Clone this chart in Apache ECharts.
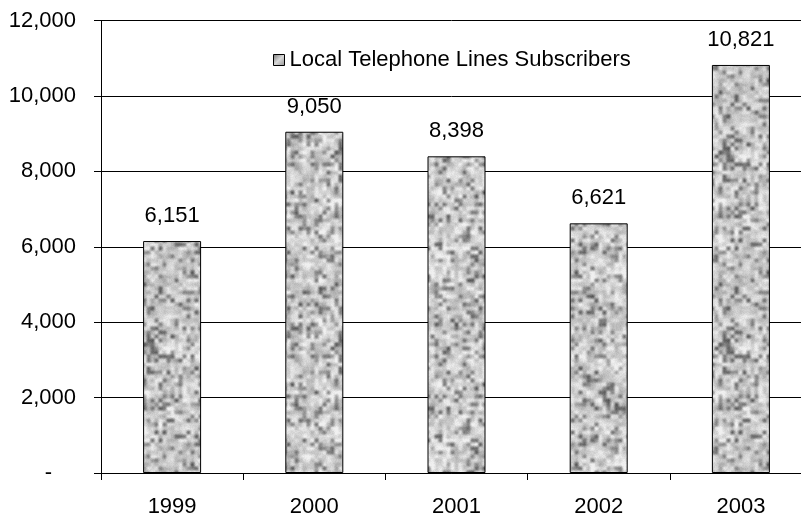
<!DOCTYPE html>
<html>
<head>
<meta charset="utf-8">
<script src="https://cdn.jsdelivr.net/npm/echarts@6/dist/echarts.min.js"></script>
<style>
html,body{margin:0;padding:0;background:#fff;}
#chart{width:801px;height:519px;}
</style>
</head>
<body>
<div id="chart"></div>
<script>
const categories = ['1999', '2000', '2001', '2002', '2003'];
const subscribers = [6151, 9050, 8398, 6621, 10821];
const seriesName = 'Local Telephone Lines Subscribers';

// seamless granite-like texture (styling only, deterministic)
function makeTexture() {
  let seed = 98765;
  function rnd() { seed = (seed * 1103515245 + 12345) & 0x7fffffff; return seed / 0x7fffffff; }
  const N = 48, S = 4, T = N * S;
  const g = [];
  for (let i = 0; i < N * N; i++) {
    let v = 180 + rnd() * 55;
    if (rnd() < 0.2) v = 100 + rnd() * 55;
    g.push(v);
  }
  const g2 = [];
  const M = 24, S2 = 8;
  for (let i = 0; i < M * M; i++) g2.push((rnd() - 0.5) * 40);
  function samp(arr, n, s, x, y) {
    const fx = x / s, fy = y / s;
    const x0 = Math.floor(fx), y0 = Math.floor(fy);
    const tx = fx - x0, ty = fy - y0;
    const sx = tx * tx * (3 - 2 * tx), sy = ty * ty * (3 - 2 * ty);
    const a = arr[(y0 % n) * n + (x0 % n)], b = arr[(y0 % n) * n + ((x0 + 1) % n)];
    const c = arr[((y0 + 1) % n) * n + (x0 % n)], d = arr[((y0 + 1) % n) * n + ((x0 + 1) % n)];
    return (a * (1 - sx) + b * sx) * (1 - sy) + (c * (1 - sx) + d * sx) * sy;
  }
  const cv = document.createElement('canvas');
  cv.width = T; cv.height = T;
  const ctx = cv.getContext('2d');
  const img = ctx.createImageData(T, T);
  for (let y = 0; y < T; y++) {
    for (let x = 0; x < T; x++) {
      let v = samp(g, N, S, x, y) + samp(g2, M, S2, x, y) + (rnd() - 0.5) * 14;
      v = Math.max(60, Math.min(240, v));
      const k = (y * T + x) * 4;
      img.data[k] = v; img.data[k + 1] = v; img.data[k + 2] = v; img.data[k + 3] = 255;
    }
  }
  ctx.putImageData(img, 0, 0);
  return cv;
}
const tex = makeTexture();

const chart = echarts.init(document.getElementById('chart'), null, {renderer: 'canvas'});
const font = 'Liberation Sans, Arial, sans-serif';
chart.setOption({
  animation: false,
  backgroundColor: '#fff',
  grid: {left: 101, width: 711, top: 20.5, bottom: 46, containLabel: false, outerBoundsMode: 'none'},
  legend: {
    left: 268, top: 44,
    icon: 'rect', itemWidth: 11, itemHeight: 11, itemGap: 8,
    textStyle: {fontFamily: font, fontSize: 22, color: '#000'},
    data: [{
      name: seriesName,
      itemStyle: {
        color: {type: 'linear', x: 0, y: 0, x2: 1, y2: 1, colorStops: [{offset: 0, color: '#707070'}, {offset: 0.5, color: '#d8d8d8'}, {offset: 1, color: '#909090'}]},
        borderColor: '#000', borderWidth: 1
      }
    }]
  },
  xAxis: {
    type: 'category',
    data: categories,
    axisLine: {lineStyle: {color: '#000', width: 1}},
    axisTick: {show: true, length: 7, lineStyle: {color: '#000'}},
    axisLabel: {fontFamily: font, fontSize: 22, color: '#000', margin: 23}
  },
  yAxis: {
    type: 'value',
    min: 0, max: 12000, interval: 2000,
    axisLine: {show: true, lineStyle: {color: '#000', width: 1}},
    axisTick: {show: true, length: 7, lineStyle: {color: '#000'}},
    splitLine: {show: true, lineStyle: {color: '#000', width: 1}},
    axisLabel: {
      fontFamily: font, fontSize: 22, color: '#000', margin: 25,
      formatter: function (v) { return v === 0 ? '{d|-}' : v.toLocaleString('en-US'); },
      rich: {d: {fontFamily: font, fontSize: 22, color: '#000', padding: [0, 24, 0, 0]}}
    }
  },
  series: [{
    name: seriesName,
    type: 'bar',
    data: subscribers,
    barWidth: 58,
    itemStyle: {color: {image: tex, repeat: 'repeat'}, borderColor: '#000', borderWidth: 1},
    label: {
      show: true, position: 'top', distance: 14,
      fontFamily: font, fontSize: 22, color: '#000',
      formatter: function (p) { return p.value.toLocaleString('en-US'); }
    }
  }]
});
</script>
</body>
</html>
